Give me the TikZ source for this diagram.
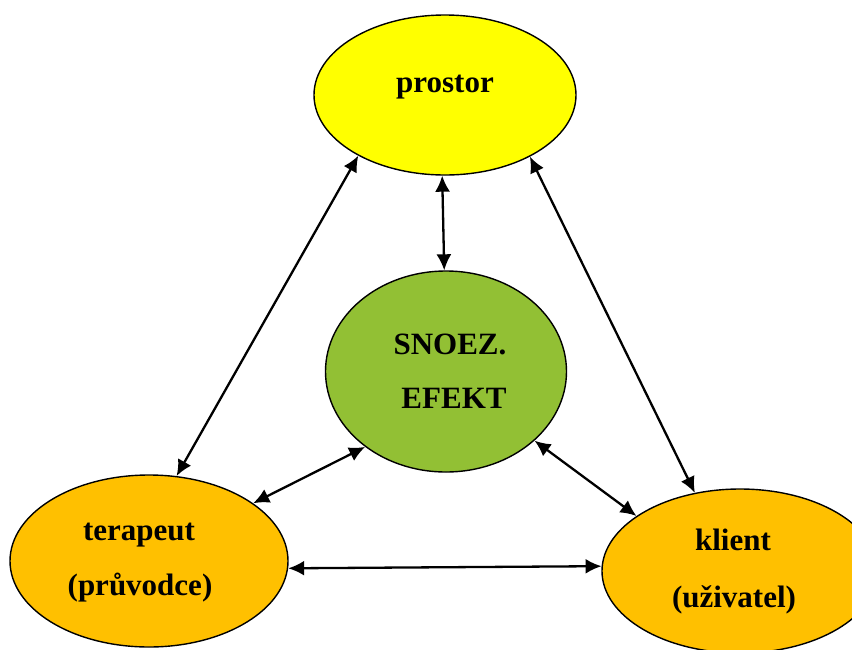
\documentclass[tikz,border=0pt]{standalone}
\usepackage{fontspec}
\setmainfont{Liberation Serif}
\usetikzlibrary{shapes.geometric,arrows.meta}

\definecolor{prostorYellow}{RGB}{255,255,0}
\definecolor{efektGreen}{RGB}{146,192,52}
\definecolor{osobaOrange}{RGB}{255,192,0}

\begin{document}
\begin{tikzpicture}[x=1pt,y=-1pt,
    every node/.style={inner sep=0pt},
    bublina/.style={ellipse,draw=black,line width=1.4pt},
    popis/.style={anchor=base,font=\fontsize{31}{37}\selectfont\bfseries},
    vazba/.style={{Latex[length=16pt,width=15pt]}-{Latex[length=16pt,width=15pt]},line width=2.3pt}]
    \useasboundingbox (0,0) rectangle (852,649);
    % bubliny
    \node [bublina,fill=prostorYellow,minimum width=262pt,minimum height=160pt] (prostor) at (445,95) {};
    \node [bublina,fill=efektGreen,minimum width=241pt,minimum height=201pt] (efekt) at (446,371.5) {};
    \node [bublina,fill=osobaOrange,minimum width=278pt,minimum height=172pt] (terapeut) at (149,561) {};
    \node [bublina,fill=osobaOrange,minimum width=276pt,minimum height=164pt] (klient) at (740,571) {};
    % texty
    \node [popis] (tProstor) at (445,92) {prostor};
    \node [popis] (tSnoez) at (450,354) {SNOEZ.};
    \node [popis] (tEfekt) at (454,408) {EFEKT};
    \node [popis] (tTerapeut) at (139,540) {terapeut};
    \node [popis] (tPruvodce) at (140,595) {(průvodce)};
    \node [popis] (tKlient) at (733,550) {klient};
    \node [popis] (tUzivatel) at (734,607) {(uživatel)};
    % vazby
    \draw [vazba] (prostor.215.5) -- (terapeut.72);
    \draw [vazba] (prostor.268) -- (efekt.91);
    \draw [vazba] (prostor.324.4) -- (klient.120);
    \draw [vazba] (efekt.223.9) -- (terapeut.29);
    \draw [vazba] (efekt.322.6) -- (klient.152.5);
    \draw [vazba] (terapeut.357) -- (klient.178.8);
\end{tikzpicture}
\end{document}
